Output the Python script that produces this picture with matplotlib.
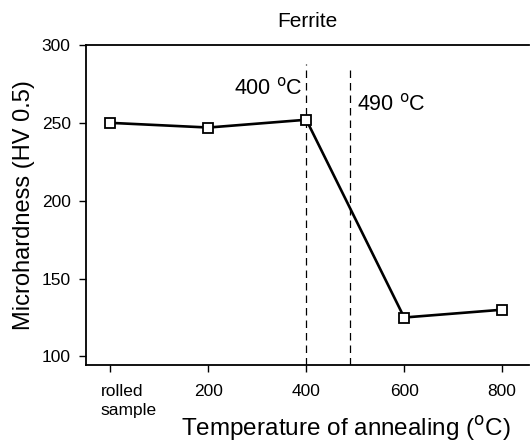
import matplotlib
matplotlib.use('Agg')
import matplotlib.pyplot as plt
import matplotlib.transforms as mtransforms

matplotlib.rcParams['font.family'] = ['Liberation Sans', 'DejaVu Sans']

temps = [0, 200, 400, 600, 800]
tick_labels = ['rolled\nsample', '200', '400', '600', '800']
hardness = [250, 247, 252, 125, 130]

transitions = [400, 490]
transition_tops = [288, 284]
transition_labels = ['400 $^{\\rm o}$C', '490 $^{\\rm o}$C']

fig = plt.figure(figsize=(5.31, 4.44), dpi=100)
ax = fig.add_axes([86 / 531, 1 - 365 / 444, 443 / 531, 320 / 444])

ax.plot(temps, hardness, color='black', linewidth=1.9, marker='s', markersize=6.5,
        markerfacecolor='white', markeredgecolor='black', markeredgewidth=1.3, zorder=3)

ylo = 94.5
ax.vlines(transitions, ylo, transition_tops, colors='black', linestyles=(0, (6, 4)), linewidth=0.9)
ax.text(392, 272, transition_labels[0], ha='right', va='center', fontsize=15.5)
ax.text(503, 262, transition_labels[1], ha='left', va='center', fontsize=15.5)

ax.set_xlim(-50, 855)
ax.set_ylim(ylo, 300)
ax.set_xticks(temps)
ax.set_xticklabels(tick_labels)
ax.set_yticks([100, 150, 200, 250, 300])
ax.tick_params(axis='both', direction='out', length=5, width=1, labelsize=12.5, pad=9)
ax.tick_params(axis='y', pad=6)
# the first label is left-aligned, starting a little left of its tick
shift = mtransforms.ScaledTranslation(-7 / 72, 0, fig.dpi_scale_trans)
lbl = ax.get_xticklabels()[0]
lbl.set_horizontalalignment('left')
lbl.set_multialignment('left')
lbl.set_linespacing(1.3)
lbl.set_transform(lbl.get_transform() + shift)

ax.spines['right'].set_visible(False)
for s in ['left', 'top', 'bottom']:
    ax.spines[s].set_linewidth(1.3)

ax.set_title('Ferrite', fontsize=15, pad=13)
ax.set_ylabel('Microhardness (HV 0.5)', fontsize=17, labelpad=5)
ax.set_xlabel('Temperature of annealing ($^{\\rm o}$C)', fontsize=17.5)
ax.xaxis.set_label_coords((346 - 86) / 443, -(414 - 365) / 320)

plt.savefig('out.png', dpi=100)
